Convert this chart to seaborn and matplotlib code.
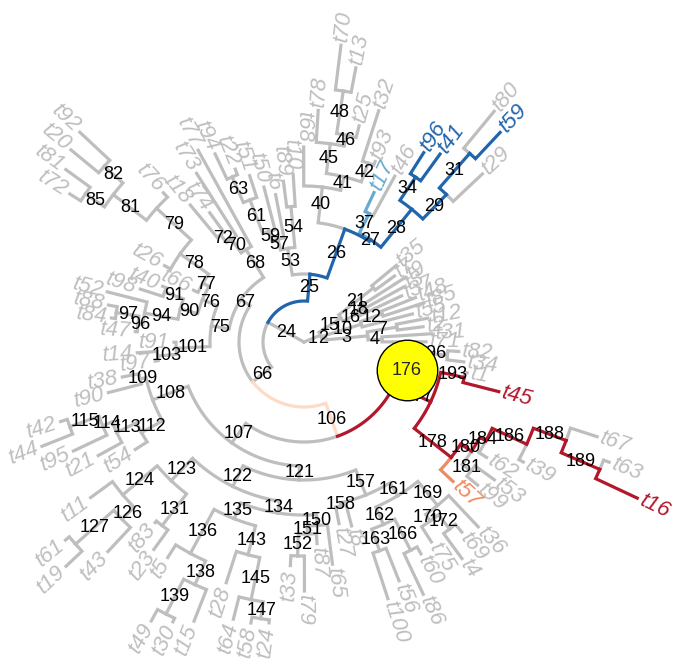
import numpy as np
import pandas as pd
import matplotlib
matplotlib.use("Agg")
import matplotlib.pyplot as plt
import seaborn as sns

sns.set_theme(style="white")
plt.rcParams["font.family"] = ["Liberation Sans", "DejaVu Sans"]

# ---------------- data ----------------
# node ids are numbered in preorder (root = 0); these are the internal ones
internal_ids = [0, 1, 2, 3, 4, 7, 10, 12, 15, 16, 18, 21, 24,
                25, 26, 27, 28, 29, 31, 34, 37, 40, 41, 42, 45, 46, 48,
                53, 54, 57, 59, 61, 63, 66,
                67, 68, 70, 72, 75, 76, 77, 78, 79, 81, 82, 85, 90, 91, 94, 96, 97, 101, 103,
                106, 107, 108, 109, 112, 113, 114, 115, 121, 122, 123, 124, 126, 127, 131,
                134, 135, 136, 138, 139, 143, 145, 147, 150, 151, 152, 157, 158, 161, 162,
                163, 166, 169, 170, 172,
                176, 177, 178, 180, 181, 184, 186, 188, 189, 193, 196]

# tip labels in preorder
tips_clade1 = ["t71", "t31", "t2", "t12", "t55", "t85", "t48", "t37", "t3", "t9", "t7", "t35"]
tips_clade25 = ["t29", "t59", "t80", "t41", "t96", "t46", "t17", "t93", "t32", "t25",
                "t13", "t70", "t78", "t68"]
tips_clade53 = ["t10", "t89", "t6", "t50", "t51", "t22", "t94"]
tips_clade67 = ["t77", "t73", "t74", "t18", "t76", "t92", "t20", "t81", "t72", "t26",
                "t66", "t40", "t98", "t52", "t88", "t84", "t47", "t91", "t14", "t97"]
tips_clade107 = ["t38", "t90", "t42", "t44", "t95", "t21", "t54", "t11", "t61", "t19",
                 "t43", "t83", "t23", "t5", "t49", "t30", "t15", "t28", "t64", "t58",
                 "t24", "t33", "t79", "t87", "t65", "t27", "t8", "t100", "t56", "t86",
                 "t60", "t75", "t4", "t69", "t36"]
tips_clade176 = ["t57", "t99", "t53", "t62", "t39", "t16", "t63", "t67", "t45", "t1",
                 "t34", "t82"]

# distance of every node from the root
depth_core = {0: 0, 24: 41, 66: 65, 106: 100}
depth_clade1 = {1: 18, 2: 22, 3: 64, 4: 78, 5: 122, 6: 128, 7: 94, 8: 120, 9: 126,
                10: 60, 11: 112, 12: 83, 13: 126, 14: 120, 15: 44, 16: 62, 17: 108,
                18: 66, 19: 114, 20: 120, 21: 88, 22: 112, 23: 120}
depth_clade25 = {25: 68, 26: 120, 27: 122, 28: 171, 29: 205, 30: 245, 31: 251, 32: 287,
                 33: 299, 34: 199, 35: 232, 36: 224, 37: 144, 38: 189, 39: 165, 40: 156,
                 41: 170, 42: 190, 43: 194, 44: 243, 45: 200, 46: 211, 47: 223, 48: 254,
                 49: 279, 50: 299, 51: 232, 52: 195}
depth_clade53 = {53: 95, 54: 136, 55: 168, 56: 162, 57: 106, 58: 150, 59: 116, 60: 160,
                 61: 152, 62: 175, 63: 180, 64: 186, 65: 208}
depth_clade67 = {67: 76, 68: 109, 69: 219, 70: 126, 71: 200, 72: 136, 73: 160, 74: 178,
                 75: 94, 76: 110, 77: 117, 78: 152, 79: 199, 80: 205, 81: 241, 82: 266,
                 83: 307, 84: 302, 85: 264, 86: 294, 87: 277, 88: 159, 89: 122, 90: 128,
                 91: 148, 92: 152, 93: 172, 94: 162, 95: 203, 96: 167, 97: 190, 98: 199,
                 99: 194, 100: 169, 101: 128, 102: 130, 103: 147, 104: 167, 105: 150}
depth_clade107 = {107: 124, 108: 162, 109: 168, 110: 185, 111: 202, 112: 186, 113: 208,
                  114: 218, 115: 249, 116: 256, 117: 282, 118: 255, 119: 235, 120: 200,
                  121: 138, 122: 161, 123: 192, 124: 237, 125: 264, 126: 254, 127: 305,
                  128: 310, 129: 327, 130: 287, 131: 232, 132: 234, 133: 256, 134: 173,
                  135: 190, 136: 240, 137: 255, 138: 266, 139: 305, 140: 318, 141: 309,
                  142: 300, 143: 220, 144: 253, 145: 263, 146: 286, 147: 280, 148: 286,
                  149: 283, 150: 184, 151: 192, 152: 214, 153: 224, 154: 249, 155: 202,
                  156: 224, 157: 165, 158: 168, 159: 185, 160: 190, 161: 180, 162: 199,
                  163: 222, 164: 270, 165: 257, 166: 234, 167: 279, 168: 242, 169: 211,
                  170: 219, 171: 237, 172: 237, 173: 268, 174: 247, 175: 254}
depth_clade176 = {176: 113, 177: 140, 178: 187, 179: 204, 180: 200, 181: 211, 182: 225,
                  183: 235, 184: 207, 185: 216, 186: 245, 187: 250, 188: 280, 189: 322,
                  190: 368, 191: 328, 192: 308, 193: 164, 194: 201, 195: 166, 196: 144,
                  197: 161, 198: 155}

# highlighted branches (value class of the branch leading to the node)
blue_nodes = [25, 26, 27, 28, 29, 31, 32, 34, 35, 36]
lightblue_nodes = [37, 39]
pink_nodes = [106]
orange_nodes = [179]
red_nodes = [176, 177, 178, 180, 184, 186, 188, 189, 190, 193, 194]
highlight_node = 176

# ---------------- layout ----------------
N = 199
tip_labels = tips_clade1 + tips_clade25 + tips_clade53 + tips_clade67 + tips_clade107 + tips_clade176
depth = {}
for d in (depth_core, depth_clade1, depth_clade25, depth_clade53, depth_clade67,
          depth_clade107, depth_clade176):
    depth.update(d)
is_int = np.zeros(N, bool)
is_int[internal_ids] = True
parent = -np.ones(N, int)
children = [[] for _ in range(N)]
stack = []
for i in range(N):
    if stack:
        p = stack[-1]
        parent[i] = p
        children[p].append(i)
        if len(children[p]) == 2:
            stack.pop()
    if is_int[i]:
        stack.append(i)
tip_ids = [i for i in range(N) if not is_int[i]]
assert len(tip_ids) == len(tip_labels) == 100

START, STEP = -3.5, 3.6
theta = np.zeros(N)
for k, t in enumerate(tip_ids, start=1):
    theta[t] = START + STEP * k
for i in reversed(range(N)):
    if is_int[i]:
        theta[i] = np.mean([theta[c] for c in children[i]])
r = np.array([depth[i] for i in range(N)], float)

colour = {}
pal = {"grey": "#BEBEBE", "blue": "#2166AC", "lightblue": "#67A9CF", "pink": "#FDDBC7",
       "orange": "#EF8A62", "red": "#B2182B"}
for grp, lst in (("blue", blue_nodes), ("lightblue", lightblue_nodes), ("pink", pink_nodes),
                 ("orange", orange_nodes), ("red", red_nodes)):
    for n in lst:
        colour[n] = grp

CX, CY = 304, 342


def xy(rad, ang):
    a = np.deg2rad(ang)
    return CX + rad * np.cos(a), CY - rad * np.sin(a)


rows = []
for v in range(1, N):
    p = parent[v]
    a0, a1 = theta[p], theta[v]
    n = max(2, int(abs(a1 - a0) / 0.5) + 2)
    angs = np.linspace(a0, a1, n)
    pts = [xy(r[p], a) for a in angs] + [xy(r[v], a1)]
    for j, (x, y) in enumerate(pts):
        rows.append((v, j, x, y, colour.get(v, "grey")))
segs = pd.DataFrame(rows, columns=["node", "order", "x", "y", "grp"])

fig = plt.figure(figsize=(6.73, 6.61), dpi=100)
ax = fig.add_axes([0, 0, 1, 1])
for grp in ["grey", "pink", "lightblue", "orange", "blue", "red"]:
    sub = segs[segs.grp == grp]
    if len(sub):
        sns.lineplot(data=sub, x="x", y="y", units="node", estimator=None, sort=False,
                     color=pal[grp], lw=2.3, ax=ax, legend=False,
                     solid_capstyle="projecting", solid_joinstyle="miter")

# node labels at branch midpoints
for v in range(1, N):
    if is_int[v]:
        x, y = xy((r[v] + r[parent[v]]) / 2, theta[v])
        ax.text(x, y, str(v), ha="center", va="center", fontsize=13, color="black", zorder=5)

# highlight circle
hx, hy = xy((r[highlight_node] + r[parent[highlight_node]]) / 2, theta[highlight_node])
ax.scatter([hx], [hy], s=1900, c="#FFFF00", edgecolors="black", linewidths=1.0, zorder=6)
ax.text(hx, hy, str(highlight_node), ha="center", va="center", fontsize=13, zorder=7)

# tip labels
for k, t in enumerate(tip_ids):
    ang = theta[t] % 360
    x, y = xy(r[t] + 4, ang)
    if 90 < ang < 270:
        rot, ha = ang - 180, "right"
    else:
        rot, ha = ang, "left"
    ax.text(x, y, tip_labels[k], rotation=rot, rotation_mode="anchor", ha=ha, va="center",
            fontsize=16, fontstyle="italic", color=pal[colour.get(t, "grey")], zorder=4)

ax.set_xlim(0, 673)
ax.set_ylim(661, 0)
ax.axis("off")
fig.savefig("out.png", dpi=100)
